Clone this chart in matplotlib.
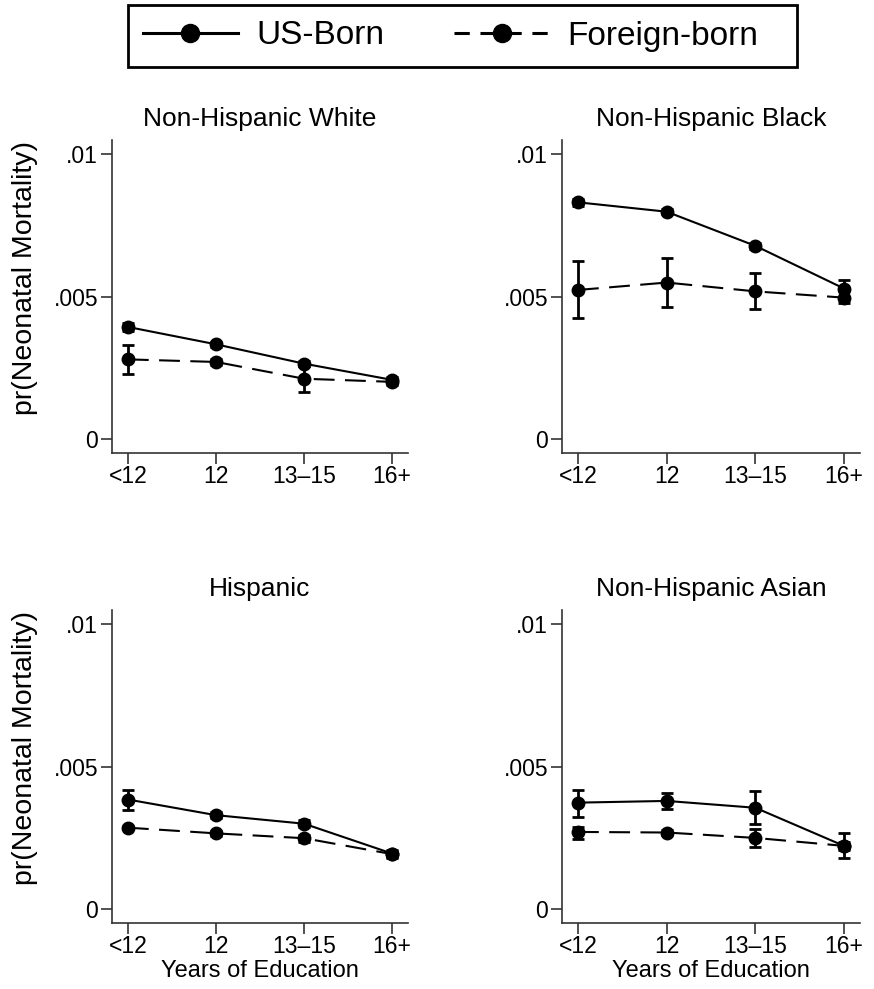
import numpy as np
import matplotlib
matplotlib.use("Agg")
from matplotlib import pyplot as plt
from matplotlib.lines import Line2D
from matplotlib.patches import Rectangle

plt.rcParams['font.family'] = ['Liberation Sans', 'DejaVu Sans']

educ = ["<12", "12", "13\u201315", "16+"]
panels = ["Non-Hispanic White", "Non-Hispanic Black", "Hispanic", "Non-Hispanic Asian"]

# point estimates and 95% CI (lower, upper)
us_born = [
    [0.00393, 0.00332, 0.00264, 0.00207],
    [0.00831, 0.00798, 0.00678, 0.00528],
    [0.00384, 0.00329, 0.00299, 0.00194],
    [0.00373, 0.00379, 0.00355, 0.00221],
]
us_lo = [
    [0.00380, 0.00323, 0.00254, 0.00197],
    [0.00818, 0.00789, 0.00668, 0.00496],
    [0.00347, 0.00318, 0.00287, 0.00181],
    [0.00323, 0.00352, 0.00297, 0.00180],
]
us_hi = [
    [0.00406, 0.00341, 0.00274, 0.00217],
    [0.00844, 0.00807, 0.00688, 0.00559],
    [0.00419, 0.00340, 0.00311, 0.00207],
    [0.00416, 0.00406, 0.00414, 0.00267],
]
foreign = [
    [0.00279, 0.00270, 0.00211, 0.00200],
    [0.00523, 0.00549, 0.00518, 0.00496],
    [0.00285, 0.00265, 0.00248, 0.00192],
    [0.00270, 0.00268, 0.00249, 0.00221],
]
fb_lo = [
    [0.00227, 0.00258, 0.00164, 0.00190],
    [0.00423, 0.00464, 0.00455, 0.00477],
    [0.00279, 0.00255, 0.00236, 0.00180],
    [0.00245, 0.00260, 0.00218, 0.00206],
]
fb_hi = [
    [0.00330, 0.00282, 0.00255, 0.00210],
    [0.00626, 0.00637, 0.00581, 0.00520],
    [0.00291, 0.00275, 0.00260, 0.00204],
    [0.00288, 0.00276, 0.00280, 0.00236],
]

W, H = 874, 989
fig = plt.figure(figsize=(W / 100, H / 100), dpi=100)

# axes boxes in pixels: left, top, right, bottom
boxes = [(112, 140, 408, 453), (562, 140, 860, 453),
         (112, 610, 408, 923), (562, 610, 860, 923)]

x = np.arange(len(educ))
dash = (0, (10, 5))
for i, (l, t, r, b) in enumerate(boxes):
    ax = fig.add_axes([l / W, 1 - b / H, (r - l) / W, (b - t) / H])
    us = np.array(us_born[i])
    fb = np.array(foreign[i])
    ax.errorbar(x, us, yerr=[us - np.array(us_lo[i]), np.array(us_hi[i]) - us],
                color="black", lw=1.5, marker="o", ms=9, capsize=4.5, capthick=2,
                elinewidth=2, label="US-Born")
    ax.errorbar(x, fb, yerr=[fb - np.array(fb_lo[i]), np.array(fb_hi[i]) - fb],
                color="black", lw=1.5, ls=dash, marker="o", ms=9, capsize=4.5,
                capthick=2, elinewidth=2, label="Foreign-born")
    ax.set_xlim(-0.18, 3.18)
    ax.set_ylim(-0.0005, 0.0105)
    ax.set_xticks(x)
    ax.set_xticklabels(educ, fontsize=16.5)
    ax.set_yticks([0, 0.005, 0.01])
    ax.set_yticklabels(["0", ".005", ".01"], fontsize=16.5)
    ax.spines["top"].set_visible(False)
    ax.spines["right"].set_visible(False)
    for s in ["left", "bottom"]:
        ax.spines[s].set_color("#333333")
        ax.spines[s].set_linewidth(1.2)
    ax.tick_params(length=8, width=1.2, color="#333333", pad=2)
    ax.tick_params(axis="x", pad=0.5)
    ax.set_title(panels[i], fontsize=19, pad=10)
    if i in (0, 2):
        ax.set_ylabel("pr(Neonatal Mortality)", fontsize=20.5)
        ax.yaxis.set_label_coords(-0.25, 0.56)
    if i in (2, 3):
        ax.set_xlabel("Years of Education", fontsize=17, labelpad=1.5)

# legend frame drawn separately, Stata-style box
fig.patches.append(Rectangle((128 / W, 1 - 67 / H), (797 - 128) / W, 62 / H,
                             transform=fig.transFigure, fill=False, ec="black", lw=2))
handles = [
    Line2D([], [], color="black", lw=2.2, marker="o", ms=13),
    Line2D([], [], color="black", lw=2.2, ls=(0, (5, 3.5)), marker="o", ms=13),
]
leg = fig.legend(handles, ["US-Born", "Foreign-born"], loc="center",
                 bbox_to_anchor=(450.5 / W, 1 - 36 / H), ncol=2, fontsize=24, frameon=False,
                 handlelength=2.85, handletextpad=0.55, columnspacing=2.1, borderpad=0)

fig.savefig("out.png", dpi=100)
